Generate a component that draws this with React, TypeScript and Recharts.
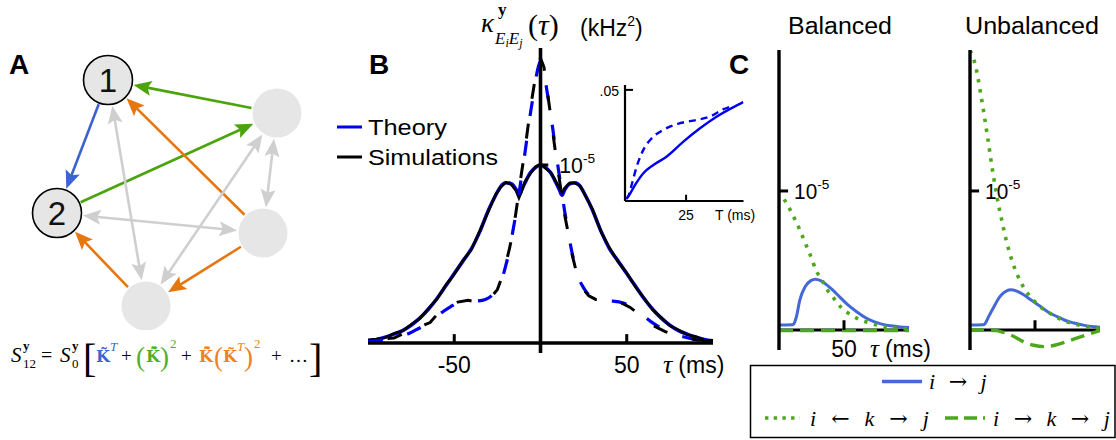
import React from 'react';
import { LineChart, Line, XAxis, YAxis, ReferenceLine, ScatterChart, Scatter } from 'recharts';

const SANS = '"Liberation Sans", Arial, Helvetica, sans-serif';
const SERIF = '"Liberation Serif", "Times New Roman", serif';
const MATH = '"DejaVu Serif", serif';

// ---------- Panel A: five-neuron motif ----------
const nodeX = [108, 57, 277, 263, 146];
const nodeY = [80, 213, 113, 233, 306];
const nodeLabels = ['1', '2', '', '', ''];

// edge kind: direct (blue), shared (green), chain (orange), other (grey)
const edgeFrom = [0, 2, 1, 3, 4, 3, 0, 1, 2, 2];
const edgeTo = [1, 0, 2, 0, 1, 4, 4, 3, 4, 3];
const edgeKind = ['direct', 'shared', 'shared', 'chain', 'chain', 'chain', 'other', 'other', 'other', 'other'];
const edgeBidirectional = [false, false, false, false, false, false, true, true, true, true];

const KIND_COLOR: Record<string, string> = {
  direct: '#3d63d2',
  shared: '#4ba40c',
  chain: '#e8760f',
  other: '#cfcfcf',
};

// ---------- Panel B: cross-covariance ----------
const tauSolid = [-100, -95, -90, -85, -80, -75, -70, -65, -60, -55, -50, -45, -40, -35, -30, -26, -23, -20, -17, -14, -12.5, -11, -9, -6, -3, 0, 3, 6, 9, 11, 12.5, 14, 17, 20, 23, 26, 30, 35, 40, 45, 50, 55, 60, 65, 70, 75, 80, 85, 90, 95, 100];
const theorySolid = [0.012, 0.02, 0.033, 0.05, 0.07, 0.1, 0.14, 0.19, 0.25, 0.32, 0.39, 0.46, 0.53, 0.63, 0.75, 0.83, 0.88, 0.9, 0.895, 0.86, 0.83, 0.86, 0.9, 0.955, 0.985, 1.0, 0.985, 0.955, 0.9, 0.86, 0.83, 0.86, 0.895, 0.9, 0.88, 0.83, 0.75, 0.63, 0.53, 0.46, 0.39, 0.32, 0.25, 0.19, 0.14, 0.1, 0.07, 0.05, 0.033, 0.02, 0.012];
const simSolid = [0.018, 0.022, 0.03, 0.054, 0.068, 0.104, 0.137, 0.193, 0.247, 0.324, 0.386, 0.463, 0.527, 0.634, 0.746, 0.833, 0.876, 0.903, 0.89, 0.852, 0.815, 0.85, 0.905, 0.95, 0.99, 1.005, 0.98, 0.958, 0.905, 0.87, 0.845, 0.87, 0.9, 0.897, 0.884, 0.826, 0.754, 0.627, 0.534, 0.457, 0.393, 0.316, 0.253, 0.187, 0.143, 0.097, 0.074, 0.047, 0.036, 0.017, 0.015];

const tauDashed = [-100, -95, -90, -85, -80, -76, -72, -68, -64, -60, -56, -52, -48, -42, -36, -32, -28, -25, -22, -20, -18, -16, -14, -12, -10, -8, -6, -4, -2, 0, 2, 4, 6, 8, 10, 12, 14, 16, 18, 20, 22, 25, 28, 32, 36, 42, 48, 52, 56, 60, 64, 68, 72, 76, 80, 85, 90, 95, 100];
const theoryDashed = [0.008, 0.012, 0.02, 0.03, 0.042, 0.055, 0.075, 0.095, 0.12, 0.15, 0.18, 0.205, 0.225, 0.235, 0.237, 0.245, 0.27, 0.31, 0.37, 0.44, 0.52, 0.63, 0.74, 0.87, 1.0, 1.14, 1.28, 1.4, 1.52, 1.58, 1.52, 1.4, 1.28, 1.14, 1.0, 0.87, 0.74, 0.63, 0.52, 0.44, 0.37, 0.31, 0.27, 0.245, 0.237, 0.235, 0.225, 0.205, 0.18, 0.15, 0.12, 0.095, 0.075, 0.055, 0.042, 0.03, 0.02, 0.012, 0.008];
const simDashed = [0.015, 0.01, 0.025, 0.028, 0.05, 0.06, 0.07, 0.1, 0.115, 0.16, 0.185, 0.21, 0.23, 0.24, 0.23, 0.235, 0.265, 0.3, 0.38, 0.45, 0.53, 0.62, 0.75, 0.89, 1.02, 1.16, 1.31, 1.43, 1.55, 1.6, 1.55, 1.41, 1.27, 1.12, 0.98, 0.85, 0.72, 0.62, 0.51, 0.43, 0.36, 0.3, 0.265, 0.245, 0.245, 0.235, 0.22, 0.2, 0.17, 0.13, 0.105, 0.085, 0.065, 0.052, 0.04, 0.03, 0.018, 0.014, 0.01];

const bTicks = [-50, 50];
const bTickLabels = ['-50', '50'];

// inset: variance vs window T
const insetTauSolid = [0.5, 1.3, 4.1, 7.5, 11.6, 17.1, 23.9, 30.7, 37.6, 48.4];
const insetSolid = [0.001, 0.002, 0.0072, 0.0125, 0.0162, 0.02, 0.0267, 0.0327, 0.038, 0.0445];
const insetTauDashed = [0.5, 1.3, 2.7, 4.8, 7.5, 10.9, 15.7, 22.5, 29.4, 34.8, 40.3, 44];
const insetDashed = [0.001, 0.002, 0.0072, 0.0155, 0.023, 0.0282, 0.032, 0.035, 0.0365, 0.038, 0.0413, 0.0428];

// ---------- Panel C: motif contributions ----------
const balDirectTau = [0, 5, 10, 11.5, 13.5, 16, 20, 24.5, 28, 32, 36, 41, 47, 53, 60, 66, 73, 79, 86, 93, 100];
const balDirect = [0.036, 0.036, 0.037, 0.045, 0.1, 0.215, 0.31, 0.355, 0.365, 0.355, 0.33, 0.29, 0.235, 0.18, 0.13, 0.092, 0.06, 0.042, 0.03, 0.022, 0.018];
const balSharedTau = [4, 8, 12, 16, 20, 24, 29, 33, 37, 42, 48, 55, 62, 70, 78, 86, 94, 100];
const balShared = [0.94, 0.875, 0.8, 0.72, 0.63, 0.54, 0.42, 0.36, 0.29, 0.23, 0.16, 0.11, 0.075, 0.05, 0.03, 0.018, 0.01, 0.007];
const balChainTau = [0, 25, 50, 75, 100];
const balChain = [-0.004, -0.004, -0.004, -0.004, -0.004];

const unbDirectTau = [0, 5, 10, 11.5, 14, 18, 23, 27, 31, 36, 41, 47, 54, 60, 67, 73, 80, 88, 100];
const unbDirect = [0.036, 0.036, 0.037, 0.045, 0.09, 0.16, 0.24, 0.275, 0.29, 0.28, 0.255, 0.215, 0.17, 0.13, 0.096, 0.07, 0.05, 0.033, 0.02];
const unbSharedTau = [0, 2, 4, 6, 8, 10, 12, 14, 16, 18, 20.5, 24.4, 28, 33, 41, 48.7, 55, 61.5, 68, 74, 82, 90, 100];
const unbShared = [2.01, 1.97, 1.91, 1.82, 1.71, 1.6, 1.48, 1.36, 1.23, 1.11, 0.97, 0.79, 0.64, 0.48, 0.31, 0.216, 0.16, 0.12, 0.085, 0.06, 0.04, 0.024, 0.01];
const unbChainTau = [0, 10, 20, 25, 33, 41, 49, 57, 65, 74, 85.5, 92, 100];
const unbChain = [0, 0, -0.004, -0.015, -0.043, -0.084, -0.11, -0.12, -0.11, -0.084, -0.048, -0.028, -0.004];

const cTick = 50;
const cTickLabel = '50';

// ---------- helpers ----------
const zip = (xs: number[], ys: number[]) => xs.map((t, i) => ({ t, v: ys[i] }));

function segShape(color: string, width: number, extra?: (p: any) => React.ReactNode) {
  return (p: any) => (
    <g>
      <line x1={p.x1} y1={p.y1} x2={p.x2} y2={p.y2} stroke={color} strokeWidth={width} />
      {extra ? extra(p) : null}
    </g>
  );
}

function arrowShape(color: string, both: boolean) {
  return (p: any) => {
    const { x1, y1, x2, y2 } = p;
    const dx = x2 - x1;
    const dy = y2 - y1;
    const d = Math.hypot(dx, dy) || 1;
    const ux = dx / d;
    const uy = dy / d;
    const gap = 26;
    const head = 18;
    const half = 7.5;
    const sx = x1 + ux * gap;
    const sy = y1 + uy * gap;
    const ex = x2 - ux * gap;
    const ey = y2 - uy * gap;
    const headPts = (tx: number, ty: number, vx: number, vy: number) => {
      const bx = tx - vx * head;
      const by = ty - vy * head;
      const nx = tx - vx * head * 0.8;
      const ny = ty - vy * head * 0.8;
      return `${tx},${ty} ${bx - vy * half},${by + vx * half} ${nx},${ny} ${bx + vy * half},${by - vx * half}`;
    };
    return (
      <g>
        <line
          x1={both ? sx + ux * head * 0.7 : sx}
          y1={both ? sy + uy * head * 0.7 : sy}
          x2={ex - ux * head * 0.7}
          y2={ey - uy * head * 0.7}
          stroke={color}
          strokeWidth={2.6}
        />
        <polygon points={headPts(ex, ey, ux, uy)} fill={color} />
        {both ? <polygon points={headPts(sx, sy, -ux, -uy)} fill={color} /> : null}
      </g>
    );
  };
}

function NodeShape(p: any) {
  const { cx, cy, payload } = p;
  const labeled = payload.label !== '';
  return (
    <g>
      <circle cx={cx} cy={cy} r={24.5} fill="#e6e6e6" stroke={labeled ? '#000' : 'none'} strokeWidth={1.6} />
      {labeled ? (
        <text x={cx} y={cy + 12} textAnchor="middle" fontSize={33} fontFamily={SANS} fill="#111">
          {payload.label}
        </text>
      ) : null}
    </g>
  );
}

function PowerLabel({ x, y, size, width }: { x: number; y: number; size: number; width: number }) {
  return (
    <text x={x} y={y} fontFamily={SANS} fontSize={size} fill="#000">
      <tspan textLength={width * 0.55} lengthAdjust="spacingAndGlyphs">10</tspan>
      <tspan dy={-size * 0.45} fontSize={size * 0.62}>-5</tspan>
    </text>
  );
}

// ---------- panels ----------
function PanelA() {
  const nodes = nodeX.map((x, i) => ({ x, y: nodeY[i], label: nodeLabels[i] }));
  return (
    <div style={{ position: 'absolute', left: 0, top: 0 }}>
      <ScatterChart width={330} height={330} margin={{ top: 0, right: 0, bottom: 0, left: 0 }}>
        <XAxis type="number" dataKey="x" domain={[0, 330]} hide />
        <YAxis type="number" dataKey="y" domain={[0, 330]} reversed hide />
        {edgeFrom.map((f, i) => (
          <ReferenceLine
            key={`e${i}`}
            segment={[
              { x: nodeX[f], y: nodeY[f] },
              { x: nodeX[edgeTo[i]], y: nodeY[edgeTo[i]] },
            ]}
            shape={arrowShape(KIND_COLOR[edgeKind[i]], edgeBidirectional[i])}
          />
        ))}
        <Scatter data={nodes} shape={NodeShape} isAnimationActive={false} />
      </ScatterChart>
    </div>
  );
}

function PanelB() {
  const solid = tauSolid.map((t, i) => ({ t, theory: theorySolid[i], sim: simSolid[i] }));
  const dashed = tauDashed.map((t, i) => ({ t, theory: theoryDashed[i], sim: simDashed[i] }));
  return (
    <div style={{ position: 'absolute', left: 330, top: 0 }}>
      <LineChart width={400} height={400} margin={{ top: 48, right: 17, bottom: 47, left: 38 }}>
        <XAxis type="number" dataKey="t" domain={[-100, 100]} hide allowDataOverflow />
        <YAxis type="number" domain={[-0.056, 1.657]} hide allowDataOverflow />
        <Line data={solid} dataKey="theory" type="monotone" stroke="#0000f0" strokeWidth={3.6} dot={false} isAnimationActive={false} />
        <Line data={solid} dataKey="sim" type="linear" stroke="#000" strokeWidth={2.6} dot={false} isAnimationActive={false} />
        <Line data={dashed} dataKey="theory" type="monotone" stroke="#0000f0" strokeWidth={3.2} strokeDasharray="15 25" dot={false} isAnimationActive={false} />
        <Line data={dashed} dataKey="sim" type="linear" stroke="#000" strokeWidth={3} strokeDasharray="15 25" strokeDashoffset={20} dot={false} isAnimationActive={false} />
        <ReferenceLine segment={[{ x: -100, y: 0 }, { x: 100, y: 0 }]} shape={segShape('#000', 3.4)} />
        <ReferenceLine segment={[{ x: 0, y: -0.056 }, { x: 0, y: 1.657 }]} shape={segShape('#000', 3.6)} />
        {bTicks.map((t, i) => (
          <ReferenceLine
            key={`bt${i}`}
            segment={[{ x: t, y: 0 }, { x: t, y: 0.05 }]}
            shape={segShape('#000', 3, (p) => (
              <text x={p.x1} y={p.y1 + 30} textAnchor="middle" fontFamily={SANS} fontSize={23} fill="#000">
                {bTickLabels[i]}
              </text>
            ))}
          />
        ))}
        <ReferenceLine
          segment={[{ x: 0, y: 1 }, { x: 4.5, y: 1 }]}
          shape={segShape('#000', 3, (p) => <PowerLabel x={p.x2 + 11} y={p.y2 + 8} size={22} width={43} />)}
        />
      </LineChart>
    </div>
  );
}

function Inset() {
  return (
    <div style={{ position: 'absolute', left: 590, top: 70 }}>
      <LineChart width={170} height={165} margin={{ top: 15, right: 16.5, bottom: 34, left: 35 }}>
        <XAxis type="number" dataKey="t" domain={[0, 48.5]} hide allowDataOverflow />
        <YAxis type="number" domain={[0, 0.0522]} hide allowDataOverflow />
        <Line data={zip(insetTauDashed, insetDashed)} dataKey="v" type="monotone" stroke="#0000f0" strokeWidth={2.4} strokeDasharray="7 5" dot={false} isAnimationActive={false} />
        <Line data={zip(insetTauSolid, insetSolid)} dataKey="v" type="monotone" stroke="#0000f0" strokeWidth={2.4} dot={false} isAnimationActive={false} />
        <ReferenceLine segment={[{ x: 0, y: 0 }, { x: 48.5, y: 0 }]} shape={segShape('#000', 2)} />
        <ReferenceLine segment={[{ x: 0, y: 0 }, { x: 0, y: 0.0522 }]} shape={segShape('#000', 2.2)} />
        <ReferenceLine
          segment={[{ x: 0, y: 0.05 }, { x: 3.3, y: 0.05 }]}
          shape={segShape('#000', 2, (p) => (
            <text x={p.x1 - 6} y={p.y1 + 6} textAnchor="end" fontFamily={SANS} fontSize={14} fill="#000">
              .05
            </text>
          ))}
        />
        <ReferenceLine
          segment={[{ x: 25, y: 0 }, { x: 25, y: 0.0028 }]}
          shape={segShape('#000', 2, (p) => (
            <text x={p.x1} y={p.y1 + 19} textAnchor="middle" fontFamily={SANS} fontSize={14} fill="#000">
              25
            </text>
          ))}
        />
      </LineChart>
    </div>
  );
}

type MotifProps = {
  left: number;
  width: number;
  mLeft: number;
  mRight: number;
  directTau: number[];
  direct: number[];
  sharedTau: number[];
  shared: number[];
  chainTau: number[];
  chain: number[];
  axisLabels: boolean;
};

const C_BLUE = '#4468d6';
const C_GREEN = '#4ca71a';

function MotifPanel(props: MotifProps) {
  const { left, width, mLeft, mRight, axisLabels } = props;
  return (
    <div style={{ position: 'absolute', left, top: 0 }}>
      <LineChart width={width} height={380} margin={{ top: 50, right: mRight, bottom: 30, left: mLeft }}>
        <XAxis type="number" dataKey="t" domain={[0, 100]} hide allowDataOverflow />
        <YAxis type="number" domain={[-0.144, 2.014]} hide allowDataOverflow />
        <ReferenceLine segment={[{ x: 0, y: 0 }, { x: 100, y: 0 }]} shape={segShape('#000', 3)} />
        <Line data={zip(props.chainTau, props.chain)} dataKey="v" type="monotone" stroke={C_GREEN} strokeWidth={3.4} strokeDasharray="14 7" dot={false} isAnimationActive={false} />
        <Line data={zip(props.directTau, props.direct)} dataKey="v" type="monotone" stroke={C_BLUE} strokeWidth={3} dot={false} isAnimationActive={false} />
        <Line data={zip(props.sharedTau, props.shared)} dataKey="v" type="monotone" stroke={C_GREEN} strokeWidth={3.6} strokeDasharray="3.4 6.6" dot={false} isAnimationActive={false} />
        <ReferenceLine segment={[{ x: 0, y: -0.144 }, { x: 0, y: 2.014 }]} shape={segShape('#000', 3.4)} />
        <ReferenceLine
          segment={[{ x: 0, y: 1 }, { x: 7, y: 1 }]}
          shape={segShape('#000', 3, (p) => <PowerLabel x={p.x2 + 6} y={p.y2 + 8} size={22} width={42} />)}
        />
        <ReferenceLine
          segment={[{ x: cTick, y: 0 }, { x: cTick, y: 0.07 }]}
          shape={segShape('#000', 3, (p) =>
            axisLabels ? (
              <g>
                <text x={p.x1} y={p.y1 + 27} textAnchor="middle" fontFamily={SANS} fontSize={23} fill="#000">
                  {cTickLabel}
                </text>
                <text x={p.x1 + 26} y={p.y1 + 27} fontSize={23} fill="#000">
                  <tspan fontFamily={SERIF} fontStyle="italic" fontSize={25}>τ</tspan>
                  <tspan fontFamily={SANS} dx={6}>(ms)</tspan>
                </text>
              </g>
            ) : null,
          )}
        />
      </LineChart>
    </div>
  );
}

function Overlay() {
  const Kt = 'K\u0303';
  const Kbt = 'K\u0303\u0304';
  return (
    <svg width={1116} height={440} style={{ position: 'absolute', left: 0, top: 0, pointerEvents: 'none' }}>
      {/* panel letters */}
      <g fontFamily={SANS} fontWeight="bold" fontSize={28} fill="#000">
        <text x={9} y={74}>A</text>
        <text x={369} y={74}>B</text>
        <text x={729} y={74}>C</text>
      </g>

      {/* panel A formula */}
      <g fill="#000">
        <text x={11} y={362} fontFamily={SERIF} fontStyle="italic" fontSize={21}>S</text>
        <text x={23} y={350} fontFamily={SERIF} fontWeight="bold" fontSize={13}>y</text>
        <text x={23} y={368} fontFamily={SERIF} fontSize={13}>12</text>
        <text x={41} y={362} fontFamily={SERIF} fontSize={20}>=</text>
        <text x={60} y={362} fontFamily={SERIF} fontStyle="italic" fontSize={21}>S</text>
        <text x={72} y={350} fontFamily={SERIF} fontWeight="bold" fontSize={13}>y</text>
        <text x={72} y={368} fontFamily={SERIF} fontSize={13}>0</text>
        <text x={83} y={372} fontFamily={SERIF} fontSize={40}>[</text>
        <g fill="#3d63d2">
          <text x={96} y={362} fontFamily={MATH} fontWeight="bold" fontSize={16}>{Kt}</text>
          <text x={110} y={351} fontFamily={SERIF} fontStyle="italic" fontSize={13}>T</text>
        </g>
        <text x={121} y={362} fontFamily={SERIF} fontSize={19}>+</text>
        <g fill="#4fae2b">
          <text x={136} y={366} fontFamily={SERIF} fontSize={27}>(</text>
          <text x={146} y={362} fontFamily={MATH} fontWeight="bold" fontSize={16}>{Kbt}</text>
          <text x={160} y={366} fontFamily={SERIF} fontSize={27}>)</text>
          <text x={170} y={348} fontFamily={SERIF} fontSize={13}>2</text>
        </g>
        <text x={181} y={362} fontFamily={SERIF} fontSize={19}>+</text>
        <g fill="#ef8122">
          <text x={199} y={362} fontFamily={MATH} fontWeight="bold" fontSize={16}>{Kbt}</text>
          <text x={214} y={366} fontFamily={SERIF} fontSize={27}>(</text>
          <text x={223} y={362} fontFamily={MATH} fontWeight="bold" fontSize={16}>{Kt}</text>
          <text x={237} y={351} fontFamily={SERIF} fontStyle="italic" fontSize={13}>T</text>
          <text x={244} y={366} fontFamily={SERIF} fontSize={27}>)</text>
          <text x={254} y={348} fontFamily={SERIF} fontSize={13}>2</text>
        </g>
        <text x={271} y={362} fontFamily={SERIF} fontSize={19}>+</text>
        <text x={289} y={362} fontFamily={SERIF} fontSize={19}>…</text>
        <text x={309} y={372} fontFamily={SERIF} fontSize={40}>]</text>
      </g>

      {/* panel B title */}
      <g fill="#000">
        <text x={481} y={32} fontFamily={SERIF} fontStyle="italic" fontSize={27}>κ</text>
        <text x={498} y={15} fontFamily={SERIF} fontWeight="bold" fontSize={17}>y</text>
        <text x={495} y={44} fontFamily={SERIF} fontStyle="italic" fontSize={17}>
          E<tspan fontSize={12} dy={3}>i</tspan>
          <tspan fontSize={17} dy={-3}>E</tspan>
          <tspan fontSize={12} dy={3}>j</tspan>
        </text>
        <text x={528} y={35} fontFamily={SERIF} fontSize={30}>
          (<tspan fontStyle="italic">τ</tspan>)
        </text>
        <text x={580} y={36} fontFamily={SANS} fontSize={23}>
          (kHz<tspan fontSize={14} dy={-10}>2</tspan>
          <tspan fontSize={23} dy={10}>)</tspan>
        </text>
      </g>

      {/* panel B legend */}
      <line x1={337} y1={127} x2={362} y2={127} stroke="#0000f0" strokeWidth={3} />
      <text x={368} y={135} fontFamily={SANS} fontSize={22} textLength={79} lengthAdjust="spacingAndGlyphs">Theory</text>
      <line x1={337} y1={157} x2={362} y2={157} stroke="#000" strokeWidth={3} />
      <text x={368} y={165} fontFamily={SANS} fontSize={22} textLength={130} lengthAdjust="spacingAndGlyphs">Simulations</text>

      {/* panel B axis name */}
      <text x={663} y={373} fontSize={23} fill="#000">
        <tspan fontFamily={SERIF} fontStyle="italic" fontSize={26}>τ</tspan>
        <tspan fontFamily={SANS} dx={6}>(ms)</tspan>
      </text>
      {/* inset axis name */}
      <text x={715} y={220} fontFamily={SANS} fontSize={14} fill="#000">T (ms)</text>

      {/* panel C titles */}
      <text x={840} y={34} textAnchor="middle" fontFamily={SANS} fontSize={23} textLength={104} lengthAdjust="spacingAndGlyphs">Balanced</text>
      <text x={1032} y={34} textAnchor="middle" fontFamily={SANS} fontSize={23} textLength={134} lengthAdjust="spacingAndGlyphs">Unbalanced</text>

      {/* panel C legend */}
      <rect x={750.5} y={365.5} width={364.5} height={72} fill="none" stroke="#000" strokeWidth={1.5} />
      <line x1={882} y1={381.5} x2={922} y2={381.5} stroke={C_BLUE} strokeWidth={3.5} />
      <text x={929} y={389} fontFamily={SERIF} fontSize={22} wordSpacing={8} fill="#000">
        <tspan fontStyle="italic">i</tspan> <tspan fontFamily={MATH}>→</tspan> <tspan fontStyle="italic">j</tspan>
      </text>
      <line x1={765} y1={418} x2={800} y2={418} stroke={C_GREEN} strokeWidth={3.6} strokeDasharray="3.4 5.3" />
      <text x={810} y={426} fontFamily={SERIF} fontSize={22} wordSpacing={9.5} fill="#000">
        <tspan fontStyle="italic">i</tspan> <tspan fontFamily={MATH}>←</tspan> <tspan fontStyle="italic">k</tspan>{' '}
        <tspan fontFamily={MATH}>→</tspan> <tspan fontStyle="italic">j</tspan>
      </text>
      <line x1={945} y1={418} x2={985} y2={418} stroke={C_GREEN} strokeWidth={3.6} strokeDasharray="13 6" />
      <text x={993} y={426} fontFamily={SERIF} fontSize={22} wordSpacing={9} fill="#000">
        <tspan fontStyle="italic">i</tspan> <tspan fontFamily={MATH}>→</tspan> <tspan fontStyle="italic">k</tspan>{' '}
        <tspan fontFamily={MATH}>→</tspan> <tspan fontStyle="italic">j</tspan>
      </text>
    </svg>
  );
}

export default function App() {
  return (
    <div style={{ position: 'absolute', left: 0, top: 0, width: 1116, height: 440, background: '#fff', overflow: 'hidden' }}>
      <PanelA />
      <PanelB />
      <Inset />
      <MotifPanel
        left={740}
        width={215}
        mLeft={39}
        mRight={46}
        directTau={balDirectTau}
        direct={balDirect}
        sharedTau={balSharedTau}
        shared={balShared}
        chainTau={balChainTau}
        chain={balChain}
        axisLabels
      />
      <MotifPanel
        left={930}
        width={186}
        mLeft={40}
        mRight={16}
        directTau={unbDirectTau}
        direct={unbDirect}
        sharedTau={unbSharedTau}
        shared={unbShared}
        chainTau={unbChainTau}
        chain={unbChain}
        axisLabels={false}
      />
      <Overlay />
    </div>
  );
}
